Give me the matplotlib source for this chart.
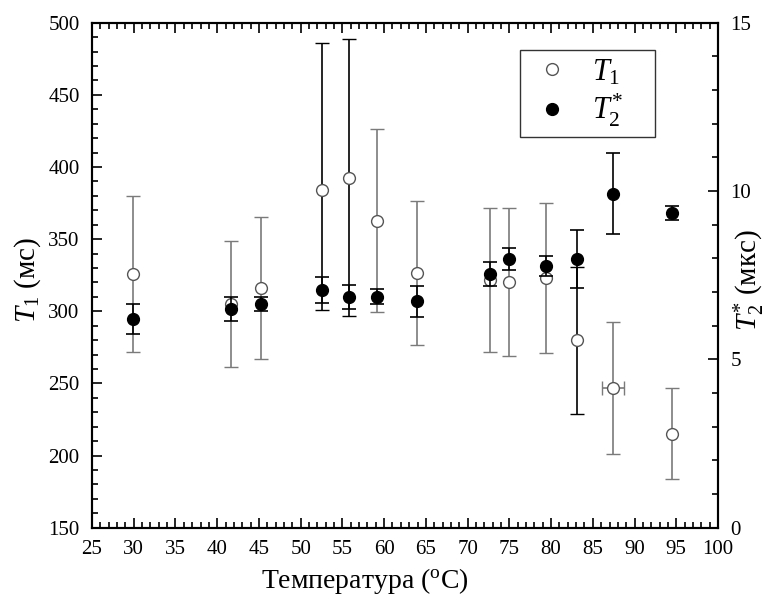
import matplotlib
matplotlib.use("Agg")
from matplotlib import pyplot as plt
from matplotlib.ticker import MultipleLocator
from matplotlib.lines import Line2D

plt.rcParams['font.family'] = ['Liberation Serif', 'DejaVu Serif']
plt.rcParams['mathtext.fontset'] = 'custom'
plt.rcParams['mathtext.rm'] = 'Liberation Serif'
plt.rcParams['mathtext.it'] = 'Liberation Serif:italic'

# temperature points (C)
temps = [29.95, 41.6, 45.2, 52.6, 55.8, 59.1, 63.9, 72.7, 74.9, 79.4, 83.1, 87.4, 94.5]
temp_err = [0, 0, 0, 0, 0, 0, 0, 0, 0, 0, 0, 1.3, 0]

# T1 (ms), left axis
t1 = [326, 305, 316, 384, 392.6, 362.8, 326.5, 321.7, 320.3, 323.3, 280, 246.8, 215]
t1_err_low = [54, 43.5, 49, 83, 96, 63.3, 50, 50, 51, 52, 51, 46, 31.5]
t1_err_high = [54, 43.5, 49, 102, 96, 63.3, 50, 50, 51, 52, 51, 46, 31.5]

# T2* (us), right axis
t2 = [6.19, 6.49, 6.64, 7.07, 6.86, 6.86, 6.73, 7.53, 7.97, 7.77, 7.98, 9.92, 9.35]
t2_err = [0.44, 0.36, 0.2, 0.39, 0.36, 0.22, 0.46, 0.35, 0.33, 0.29, 0.87, 1.2, 0.2]

fig = plt.figure(figsize=(7.7, 6.01), dpi=100)
ax = fig.add_axes([0.1195, 0.122, 0.813, 0.8402])
ax2 = ax.twinx()

# T1 error bars: mostly grey, a few black ones
black_idx = [3, 4, 10]
for i in range(len(temps)):
    col = 'black' if i in black_idx else '#7a7a7a'
    ax.errorbar(temps[i], t1[i], yerr=[[t1_err_low[i]], [t1_err_high[i]]],
                xerr=temp_err[i] if temp_err[i] else None,
                fmt='o', mfc='white', mec='#555555', ms=8.5, mew=1.0,
                ecolor=col, elinewidth=1.2, capsize=5, capthick=1.2, zorder=3)

ax2.errorbar(temps, t2, yerr=t2_err, fmt='o', color='black', ms=8.5,
             ecolor='black', elinewidth=1.2, capsize=5, capthick=1.2, zorder=4)

ax.set_xlim(25, 100)
ax.set_ylim(150, 500)
ax2.set_ylim(0, 15)

ax.xaxis.set_major_locator(MultipleLocator(5))
ax.xaxis.set_minor_locator(MultipleLocator(1))
ax.yaxis.set_major_locator(MultipleLocator(50))
ax.yaxis.set_minor_locator(MultipleLocator(10))
ax2.yaxis.set_major_locator(MultipleLocator(5))
ax2.yaxis.set_minor_locator(MultipleLocator(1))

ax.tick_params(which='both', direction='in', top=True, right=False, labelsize=15, width=1.2, pad=9)
ax.tick_params(which='major', length=7)
ax.tick_params(which='minor', length=4)
ax2.tick_params(which='both', direction='in', labelsize=15, width=1.2, pad=9)
ax2.tick_params(which='major', length=7)
ax2.tick_params(which='minor', length=4)
for s in ax.spines.values():
    s.set_linewidth(1.5)
for s in ax2.spines.values():
    s.set_linewidth(1.5)

ax.set_xlabel('Температура ($^{\\mathrm{o}}$C)', fontsize=20)
ax.xaxis.set_label_coords(0.436, -0.075)
ax.set_ylabel('$T_{1}$ (мс)', fontsize=21)
ax.yaxis.set_label_coords(-0.078, 0.49)
ax2.set_ylabel('$T_{2}^{*}$ (мкс)', fontsize=21)
ax2.yaxis.set_label_coords(1.022, 0.49)

handles = [Line2D([], [], ls='', marker='o', mfc='white', mec='#555555', ms=8.5),
           Line2D([], [], ls='', marker='o', color='black', ms=8.5)]
leg = ax2.legend(handles, ['$T_{1}$    ', '$T_{2}^{*}$    '], loc='upper left',
                 bbox_to_anchor=(0.684, 0.946), fontsize=22, frameon=True,
                 fancybox=False, edgecolor='black', handlelength=1.6,
                 handletextpad=0.5, borderpad=0.25, labelspacing=0.15,
                 borderaxespad=0)
leg.get_frame().set_linewidth(1.0)

fig.savefig('out.png', dpi=100)
